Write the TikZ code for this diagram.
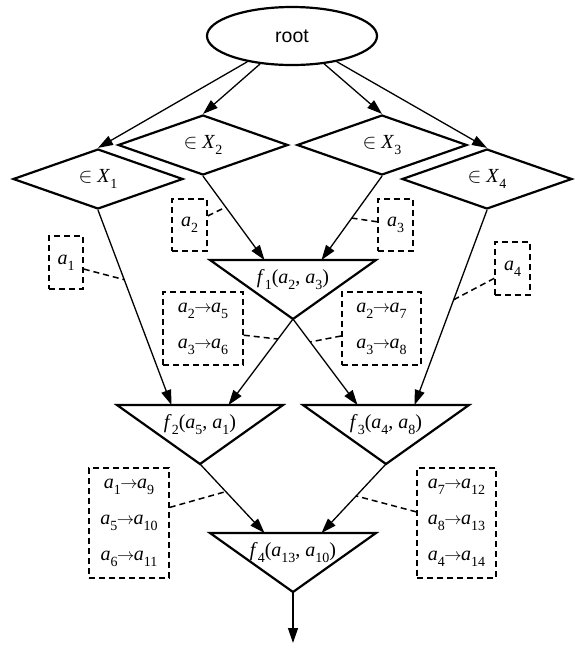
\documentclass[tikz,border=0pt]{standalone}
\usepackage{fontspec}
\setmainfont{Liberation Serif}
\newfontfamily\arialf{Liberation Sans}
\usetikzlibrary{shapes.geometric,arrows.meta,calc}
\newcommand\sbs[1]{\raisebox{-0.3em}{\fontsize{14}{14}\selectfont #1}}
\newcommand\va[1]{\textit{a}\sbs{#1}}
\newcommand\vf[1]{\textit{f}\sbs{#1}}
\newcommand\vX[1]{\textit{X}\sbs{#1}}
\newcommand\rarr{\kern-0.5pt{\fontsize{17}{17}\selectfont$\rightarrow$}\kern-0.5pt}
\newcommand\ftri[4]{%
  \draw[shp] (#2-83,#3) -- (#2+83,#3) -- (#2,#3+59) -- cycle;
  \coordinate (#1apex) at (#2,#3+59);
  \coordinate (#1l) at (#2-28.5,#3);
  \coordinate (#1r) at (#2+28.5,#3);
  \node[lbl] (#1) at (#2,#3+20) {#4};}
\begin{document}
\begin{tikzpicture}[x=1pt,y=-1pt,
  shp/.style={draw,line width=2.2pt,line join=miter},
  dia/.style={shape=diamond,draw,line width=2.2pt,minimum width=170pt,minimum height=60pt,inner sep=0pt,font=\fontsize{20}{22}\selectfont},
  arr/.style={-{Triangle[length=15pt,width=10pt]},line width=1.3pt},
  dbox/.style={draw,line width=1.5pt,dash pattern=on 6pt off 4pt,inner sep=0pt,align=center,font=\fontsize{20}{36}\selectfont},
  dlink/.style={line width=1.5pt,dash pattern=on 6pt off 4pt},
  lbl/.style={font=\fontsize{20}{22}\selectfont,inner sep=0pt}
]
\useasboundingbox (0,0) rectangle (574,649);

\node[ellipse,draw,line width=2.2pt,minimum width=170pt,minimum height=58pt,inner sep=0pt,font=\arialf\fontsize{19.5}{20}\selectfont] (root) at (292,36) {root};

\node[dia] (x1) at (98,179) {{\fontsize{22}{22}\selectfont$\in$} \vX{1}};
\node[dia] (x2) at (203,145) {{\fontsize{22}{22}\selectfont$\in$} \vX{2}};
\node[dia] (x3) at (382,145) {{\fontsize{22}{22}\selectfont$\in$} \vX{3}};
\node[dia] (x4) at (487,179) {{\fontsize{22}{22}\selectfont$\in$} \vX{4}};

\ftri{f1}{293}{260}{\vf{1}(\va{2}, \va{3})}
\ftri{f2}{200}{405}{\vf{2}(\va{5}, \va{1})}
\ftri{f3}{386}{405}{\vf{3}(\va{4}, \va{8})}
\ftri{f4}{293}{533}{\vf{4}(\va{13}, \va{10})}
\coordinate (out) at (293,643);

\draw[arr] (root) -- (x1.north);
\draw[arr] (root) -- (x2.north);
\draw[arr] (root) -- (x3.north);
\draw[arr] (root) -- (x4.north);
\draw[arr] (x2.south) -- (f1l);
\draw[arr] (x3.south) -- (f1r);
\draw[arr] (x1.south) -- (f2l);
\draw[arr] (f1apex) -- (f2r);
\draw[arr] (f1apex) -- (f3l);
\draw[arr] (x4.south) -- (f3r);
\draw[arr] (f2apex) -- (f4l);
\draw[arr] (f3apex) -- (f4r);
\draw[arr] (f4apex) -- (out);

\node[dbox,minimum width=34pt,minimum height=53pt] (a1b) at (66,262.5) {\va{1}};
\node[dbox,minimum width=35pt,minimum height=52pt] (a2b) at (189.5,225) {\va{2}};
\node[dbox,minimum width=35pt,minimum height=52pt] (a3b) at (395.5,225) {\va{3}};
\node[dbox,minimum width=35pt,minimum height=53pt] (a4b) at (512.5,268.5) {\va{4}};
\node[dbox,minimum width=80pt,minimum height=73pt] (m1) at (203,328.5) {\va{2}\rarr\va{5}\\\va{3}\rarr\va{6}};
\node[dbox,minimum width=79pt,minimum height=73pt] (m2) at (381.5,328.5) {\va{2}\rarr\va{7}\\\va{3}\rarr\va{8}};
\node[dbox,minimum width=80pt,minimum height=110pt] (m3) at (129,523) {\va{1}\rarr\va{9}\\\va{5}\rarr\va{10}\\\va{6}\rarr\va{11}};
\node[dbox,minimum width=79pt,minimum height=110pt] (m4) at (456.5,523) {\va{7}\rarr\va{12}\\\va{8}\rarr\va{13}\\\va{4}\rarr\va{14}};

\draw[dlink] ($(a1b.north east)!0.62!(a1b.south east)$) -- ($(x1.south)!0.357!(f2l)$);
\draw[dlink] ($(a2b.north east)!0.33!(a2b.south east)$) -- ($(x2.south)!0.37!(f1l)$);
\draw[dlink] ($(a3b.north west)!0.44!(a3b.south west)$) -- ($(x3.south)!0.5!(f1r)$);
\draw[dlink] ($(a4b.north west)!0.68!(a4b.south west)$) -- ($(x4.south)!0.46!(f3r)$);
\draw[dlink] ($(m1.north east)!0.59!(m1.south east)$) -- ($(f1apex)!0.233!(f2r)$);
\draw[dlink] ($(m2.north west)!0.6!(m2.south west)$) -- ($(f1apex)!0.267!(f3l)$);
\draw[dlink] ($(m3.north east)!0.36!(m3.south east)$) -- ($(f2apex)!0.4!(f4l)$);
\draw[dlink] ($(m4.north west)!0.4!(m4.south west)$) -- ($(f3apex)!0.463!(f4r)$);
\end{tikzpicture}
\end{document}
